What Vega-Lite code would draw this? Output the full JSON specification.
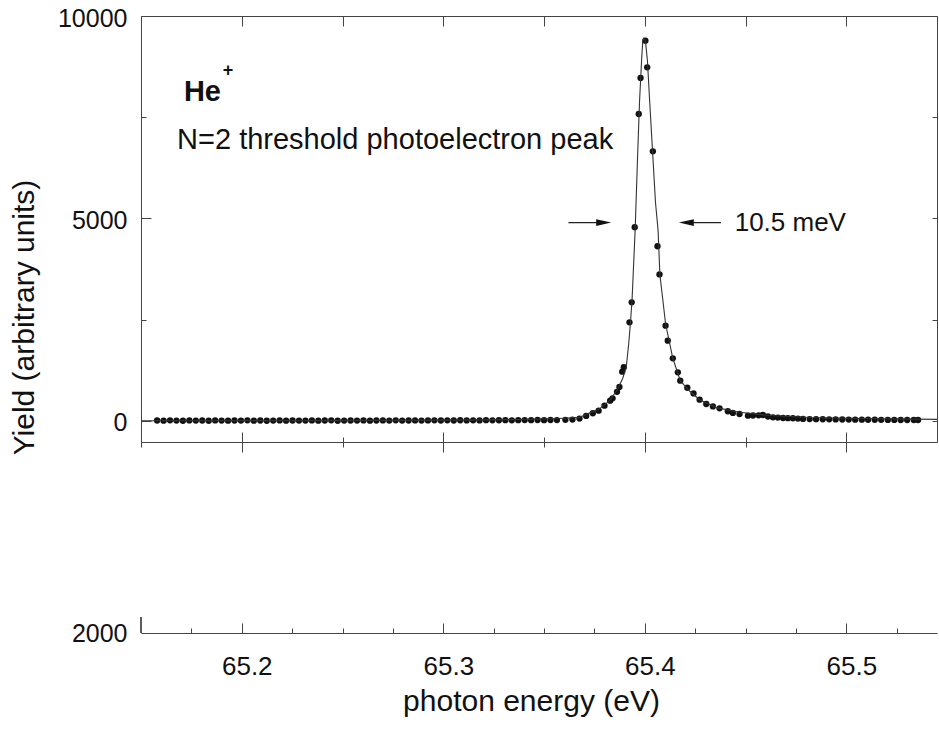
{
  "$schema": "https://vega.github.io/schema/vega-lite/v6.json",
  "background": "white",
  "padding": {"left": 8, "top": 5, "right": 1, "bottom": 5},
  "bounds": "flush",
  "spacing": 175,
  "config": {
    "font": "Liberation Sans",
    "view": {"stroke": null},
    "axis": {
      "labelFont": "Liberation Sans",
      "titleFont": "Liberation Sans",
      "labelColor": "#111",
      "titleColor": "#111",
      "tickColor": "#444",
      "domainColor": "#444",
      "grid": false,
      "titleFontWeight": "normal"
    }
  },
  "datasets": {
    "points": [
      {"energy": 65.1580, "yield": 12}, {"energy": 65.1612, "yield": 8}, {"energy": 65.1644, "yield": 15}, {"energy": 65.1676, "yield": 10}, {"energy": 65.1708, "yield": 5},
      {"energy": 65.1740, "yield": 14}, {"energy": 65.1772, "yield": 9}, {"energy": 65.1804, "yield": 11}, {"energy": 65.1836, "yield": 6}, {"energy": 65.1868, "yield": 13},
      {"energy": 65.1900, "yield": 10}, {"energy": 65.1932, "yield": 7}, {"energy": 65.1964, "yield": 12}, {"energy": 65.1996, "yield": 9}, {"energy": 65.2028, "yield": 15},
      {"energy": 65.2060, "yield": 8}, {"energy": 65.2092, "yield": 11}, {"energy": 65.2124, "yield": 6}, {"energy": 65.2156, "yield": 10}, {"energy": 65.2188, "yield": 14},
      {"energy": 65.2220, "yield": 7}, {"energy": 65.2252, "yield": 12}, {"energy": 65.2284, "yield": 9}, {"energy": 65.2316, "yield": 10}, {"energy": 65.2348, "yield": 13},
      {"energy": 65.2380, "yield": 8}, {"energy": 65.2412, "yield": 11}, {"energy": 65.2444, "yield": 15}, {"energy": 65.2476, "yield": 6}, {"energy": 65.2508, "yield": 10},
      {"energy": 65.2540, "yield": 12}, {"energy": 65.2572, "yield": 9}, {"energy": 65.2604, "yield": 14}, {"energy": 65.2636, "yield": 8}, {"energy": 65.2668, "yield": 11},
      {"energy": 65.2700, "yield": 13}, {"energy": 65.2732, "yield": 10}, {"energy": 65.2764, "yield": 16}, {"energy": 65.2796, "yield": 9}, {"energy": 65.2828, "yield": 12},
      {"energy": 65.2860, "yield": 14}, {"energy": 65.2892, "yield": 10}, {"energy": 65.2924, "yield": 13}, {"energy": 65.2956, "yield": 17}, {"energy": 65.2988, "yield": 11},
      {"energy": 65.3020, "yield": 15}, {"energy": 65.3052, "yield": 12}, {"energy": 65.3084, "yield": 18}, {"energy": 65.3116, "yield": 14}, {"energy": 65.3148, "yield": 16},
      {"energy": 65.3180, "yield": 13}, {"energy": 65.3212, "yield": 19}, {"energy": 65.3244, "yield": 15}, {"energy": 65.3276, "yield": 18}, {"energy": 65.3308, "yield": 21},
      {"energy": 65.3340, "yield": 17}, {"energy": 65.3372, "yield": 20}, {"energy": 65.3404, "yield": 22}, {"energy": 65.3436, "yield": 19}, {"energy": 65.3468, "yield": 24},
      {"energy": 65.3500, "yield": 21}, {"energy": 65.3532, "yield": 25}, {"energy": 65.3564, "yield": 23},
      {"energy": 65.3606, "yield": 28}, {"energy": 65.3641, "yield": 35}, {"energy": 65.3676, "yield": 60}, {"energy": 65.3709, "yield": 125}, {"energy": 65.3742, "yield": 190},
      {"energy": 65.3771, "yield": 254}, {"energy": 65.3800, "yield": 378}, {"energy": 65.3828, "yield": 501}, {"energy": 65.3840, "yield": 560}, {"energy": 65.3862, "yield": 720},
      {"energy": 65.3874, "yield": 840}, {"energy": 65.3888, "yield": 1218}, {"energy": 65.3896, "yield": 1326}, {"energy": 65.3924, "yield": 2437}, {"energy": 65.3935, "yield": 2930},
      {"energy": 65.3950, "yield": 4783}, {"energy": 65.3970, "yield": 7580}, {"energy": 65.3979, "yield": 8469}, {"energy": 65.4003, "yield": 9390}, {"energy": 65.4012, "yield": 8733},
      {"energy": 65.4040, "yield": 6659}, {"energy": 65.4063, "yield": 4314}, {"energy": 65.4073, "yield": 3620}, {"energy": 65.4103, "yield": 2353}, {"energy": 65.4114, "yield": 1983},
      {"energy": 65.4139, "yield": 1548}, {"energy": 65.4164, "yield": 1202}, {"energy": 65.4176, "yield": 995}, {"energy": 65.4211, "yield": 820}, {"energy": 65.4242, "yield": 680},
      {"energy": 65.4272, "yield": 526}, {"energy": 65.4305, "yield": 420}, {"energy": 65.4338, "yield": 360}, {"energy": 65.4371, "yield": 313}, {"energy": 65.4412, "yield": 240},
      {"energy": 65.4437, "yield": 198}, {"energy": 65.4470, "yield": 173}, {"energy": 65.4512, "yield": 131}, {"energy": 65.4537, "yield": 135}, {"energy": 65.4565, "yield": 140},
      {"energy": 65.4586, "yield": 148}, {"energy": 65.4611, "yield": 110}, {"energy": 65.4636, "yield": 91}, {"energy": 65.4660, "yield": 85}, {"energy": 65.4686, "yield": 74},
      {"energy": 65.4710, "yield": 70}, {"energy": 65.4735, "yield": 67}, {"energy": 65.4760, "yield": 60}, {"energy": 65.4785, "yield": 50},
      {"energy": 65.4818, "yield": 48}, {"energy": 65.4850, "yield": 45}, {"energy": 65.4883, "yield": 42}, {"energy": 65.4915, "yield": 40}, {"energy": 65.4947, "yield": 38},
      {"energy": 65.4980, "yield": 36}, {"energy": 65.5012, "yield": 35}, {"energy": 65.5044, "yield": 33}, {"energy": 65.5077, "yield": 32}, {"energy": 65.5108, "yield": 30},
      {"energy": 65.5141, "yield": 30}, {"energy": 65.5173, "yield": 28}, {"energy": 65.5206, "yield": 27}, {"energy": 65.5238, "yield": 27}, {"energy": 65.5270, "yield": 25},
      {"energy": 65.5302, "yield": 25}, {"energy": 65.5335, "yield": 24}, {"energy": 65.5356, "yield": 24}
    ],
    "fit": [
      {"energy": 65.1500, "fit": 5}, {"energy": 65.2285, "fit": 10}, {"energy": 65.3030, "fit": 20}, {"energy": 65.3378, "fit": 35},
      {"energy": 65.3576, "fit": 60}, {"energy": 65.3676, "fit": 90}, {"energy": 65.3775, "fit": 300}, {"energy": 65.3825, "fit": 500},
      {"energy": 65.3866, "fit": 790}, {"energy": 65.3890, "fit": 1050}, {"energy": 65.3908, "fit": 1330}, {"energy": 65.3920, "fit": 1900},
      {"energy": 65.3929, "fit": 2437}, {"energy": 65.3937, "fit": 3012}, {"energy": 65.3952, "fit": 4700}, {"energy": 65.3964, "fit": 6500},
      {"energy": 65.3974, "fit": 7900}, {"energy": 65.3984, "fit": 8900}, {"energy": 65.3990, "fit": 9390}, {"energy": 65.3996, "fit": 9450},
      {"energy": 65.4003, "fit": 9390}, {"energy": 65.4013, "fit": 8900}, {"energy": 65.4023, "fit": 8000}, {"energy": 65.4038, "fit": 6700},
      {"energy": 65.4053, "fit": 5400}, {"energy": 65.4066, "fit": 4700}, {"energy": 65.4075, "fit": 3600}, {"energy": 65.4089, "fit": 3012},
      {"energy": 65.4103, "fit": 2400}, {"energy": 65.4139, "fit": 1548}, {"energy": 65.4176, "fit": 995}, {"energy": 65.4222, "fit": 740},
      {"energy": 65.4272, "fit": 526}, {"energy": 65.4355, "fit": 330}, {"energy": 65.4470, "fit": 215}, {"energy": 65.4619, "fit": 135},
      {"energy": 65.4818, "fit": 85}, {"energy": 65.5067, "fit": 60}, {"energy": 65.5450, "fit": 40}
    ],
    "one": [{}]
  },
  "vconcat": [
    {
      "width": 796,
      "height": 426,
      "view": {"stroke": "#444", "strokeWidth": 1},
      "resolve": {"axis": {"x": "independent", "y": "independent"}},
      "layer": [
        {
          "data": {"name": "points"},
          "mark": {"type": "point", "filled": true, "size": 40, "color": "#111", "opacity": 1},
          "encoding": {
            "x": {
              "field": "energy", "type": "quantitative",
              "scale": {"domain": [65.15, 65.545], "nice": false, "zero": false},
              "axis": {"orient": "bottom", "values": [65.2, 65.3, 65.4, 65.5], "tickSize": 10, "labels": false, "domain": false, "title": null}
            },
            "y": {
              "field": "yield", "type": "quantitative",
              "scale": {"domain": [-519, 10000], "nice": false, "zero": false},
              "axis": {
                "orient": "left", "values": [0, 5000, 10000], "format": "d", "ticks": false, "labelPadding": 14,
                "labelFontSize": 25, "labelOffset": 2, "domain": false,
                "title": "Yield (arbitrary units)", "titleFontSize": 30, "titlePadding": 18, "titleY": 301
              }
            }
          }
        },
        {
          "data": {"name": "fit"},
          "mark": {"type": "line", "color": "#333", "strokeWidth": 1.1},
          "encoding": {
            "x": {
              "field": "energy", "type": "quantitative",
              "axis": {"orient": "bottom", "values": [65.2, 65.3, 65.4, 65.5], "tickSize": -10, "labels": false, "domain": false, "title": null}
            },
            "y": {
              "field": "fit", "type": "quantitative",
              "axis": {"orient": "left", "values": [0, 5000, 10000], "tickSize": -10, "labels": false, "domain": false, "title": null}
            }
          }
        },
        {
          "data": {"name": "one"},
          "mark": {"type": "text", "text": "He", "fontSize": 29, "fontWeight": "bold", "align": "left", "baseline": "alphabetic", "color": "#111"},
          "encoding": {
            "x": {"datum": 65.1713, "type": "quantitative", "axis": {"orient": "bottom", "values": [65.15, 65.25, 65.35, 65.45], "tickSize": 5, "labels": false, "domain": false, "title": null}},
            "y": {"datum": 7909, "type": "quantitative", "axis": {"orient": "left", "values": [2500, 7500], "tickSize": -5, "labels": false, "domain": false, "title": null}}
          }
        },
        {
          "data": {"name": "one"},
          "mark": {"type": "text", "text": "+", "fontSize": 18, "fontWeight": "bold", "align": "center", "baseline": "middle", "color": "#111"},
          "encoding": {
            "x": {"datum": 65.1932, "type": "quantitative", "axis": {"orient": "bottom", "values": [65.15, 65.25, 65.35, 65.45], "tickSize": -5, "labels": false, "domain": false, "title": null}},
            "y": {"datum": 8642, "type": "quantitative", "axis": {"orient": "right", "values": [0, 2500, 5000, 7500, 10000], "tickSize": -5, "labels": false, "domain": false, "title": null}}
          }
        },
        {
          "data": {"name": "one"},
          "mark": {"type": "text", "text": "N=2 threshold photoelectron peak", "fontSize": 29, "align": "left", "baseline": "alphabetic", "color": "#111"},
          "encoding": {
            "x": {"datum": 65.1679, "type": "quantitative", "axis": {"orient": "top", "values": [65.15, 65.2, 65.25, 65.3, 65.35, 65.4, 65.45, 65.5], "tickSize": -10, "labels": false, "domain": false, "title": null}},
            "y": {"datum": 6716, "type": "quantitative", "axis": null}
          }
        },
        {
          "data": {"name": "one"},
          "mark": {"type": "text", "text": "10.5 meV", "fontSize": 26, "align": "left", "baseline": "middle", "color": "#111"},
          "encoding": {
            "x": {"datum": 65.4446, "type": "quantitative", "axis": null},
            "y": {"datum": 4900, "type": "quantitative", "axis": null}
          }
        },
        {
          "data": {"name": "one"},
          "mark": {"type": "rule", "color": "#222", "strokeWidth": 1.2},
          "encoding": {
            "x": {"datum": 65.3621, "type": "quantitative", "axis": null},
            "x2": {"datum": 65.3800},
            "y": {"datum": 4900, "type": "quantitative", "axis": null}
          }
        },
        {
          "data": {"name": "one"},
          "mark": {"type": "rule", "color": "#222", "strokeWidth": 1.2},
          "encoding": {
            "x": {"datum": 65.4200, "type": "quantitative", "axis": null},
            "x2": {"datum": 65.4378},
            "y": {"datum": 4900, "type": "quantitative", "axis": null}
          }
        },
        {
          "data": {"name": "one"},
          "mark": {"type": "point", "shape": "M-1,-0.45L1,0L-1,0.45Z", "filled": true, "size": 225, "color": "#111", "opacity": 1},
          "encoding": {
            "x": {"datum": 65.3796, "type": "quantitative", "axis": null},
            "y": {"datum": 4900, "type": "quantitative", "axis": null}
          }
        },
        {
          "data": {"name": "one"},
          "mark": {"type": "point", "shape": "M1,-0.45L-1,0L1,0.45Z", "filled": true, "size": 225, "color": "#111", "opacity": 1},
          "encoding": {
            "x": {"datum": 65.4206, "type": "quantitative", "axis": null},
            "y": {"datum": 4900, "type": "quantitative", "axis": null}
          }
        }
      ]
    },
    {
      "width": 796,
      "height": 16,
      "resolve": {"axis": {"x": "independent", "y": "independent"}},
      "layer": [
        {
          "data": {"name": "one"},
          "mark": {"type": "rule", "color": "#444", "strokeWidth": 1},
          "encoding": {
            "x": {
              "datum": 65.15, "type": "quantitative",
              "scale": {"domain": [65.15, 65.545], "nice": false, "zero": false},
              "axis": {
                "orient": "bottom", "values": [65.2, 65.3, 65.4, 65.5], "ticks": false, "labelPadding": 20,
                "labelFontSize": 26, "labelOffset": 5, "domain": true,
                "title": "photon energy (eV)", "titleFontSize": 30, "titlePadding": 7, "titleX": 390
              }
            },
            "y": {
              "datum": 2000, "type": "quantitative",
              "scale": {"domain": [2000, 2500], "nice": false, "zero": false},
              "axis": {"orient": "left", "values": [2000], "format": "d", "ticks": false, "labelPadding": 14, "labelFontSize": 25, "domain": false, "title": null}
            },
            "y2": {"datum": 2500}
          }
        },
        {
          "data": {"name": "one"},
          "mark": {"type": "rule", "color": "#444", "strokeWidth": 1},
          "encoding": {
            "x": {"datum": 65.15, "type": "quantitative", "axis": {"orient": "bottom", "values": [65.2, 65.3, 65.4, 65.5], "tickSize": -10, "labels": false, "domain": false, "title": null}},
            "y": {"datum": 2000, "type": "quantitative", "axis": null},
            "y2": {"datum": 2500}
          }
        },
        {
          "data": {"name": "one"},
          "mark": {"type": "rule", "color": "#444", "strokeWidth": 1},
          "encoding": {
            "x": {"datum": 65.15, "type": "quantitative", "axis": {"orient": "bottom", "values": [65.175, 65.225, 65.25, 65.275, 65.325, 65.35, 65.375, 65.425, 65.45, 65.475, 65.525], "tickSize": -5, "labels": false, "domain": false, "title": null}},
            "y": {"datum": 2000, "type": "quantitative", "axis": null},
            "y2": {"datum": 2500}
          }
        }
      ]
    }
  ]
}
